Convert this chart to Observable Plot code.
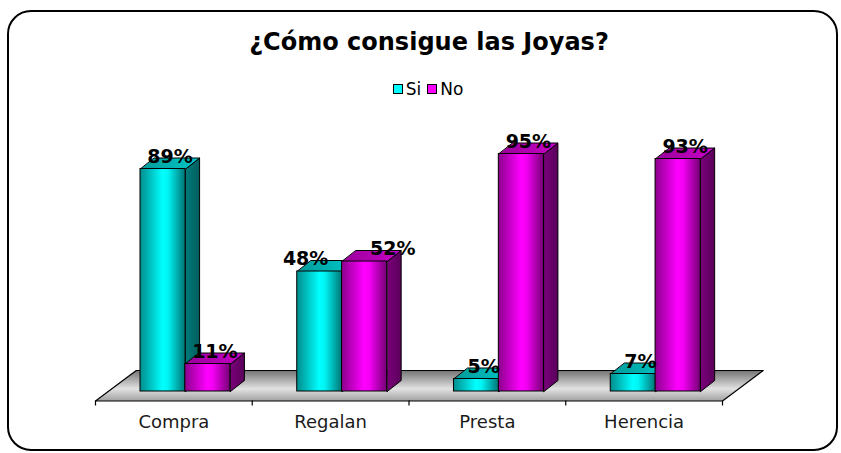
<!DOCTYPE html>
<html><head><meta charset="utf-8">
<script src="https://cdn.jsdelivr.net/npm/d3@7"></script>
<script src="https://cdn.jsdelivr.net/npm/@observablehq/plot@0.6"></script>
<style>
body{margin:0;background:#fff;font-family:"DejaVu Sans",Verdana,sans-serif;}
#wrap{position:relative;width:841px;height:453px;overflow:hidden;background:#fff;}
#frame{position:absolute;left:7px;top:10px;width:831px;height:441px;border:2px solid #000;border-radius:24px;box-sizing:border-box;}
#title{position:absolute;left:0;top:28px;width:858px;text-align:center;font-weight:bold;font-size:24px;line-height:28px;}
#legend{position:absolute;left:0;top:79px;width:856px;text-align:center;font-size:17px;line-height:20px;}
#legend span.sw{display:inline-block;width:8px;height:8px;border:1px solid #000;margin:0 3px 0 0;vertical-align:1px;}
#legend span.it{margin:0 3px;}
#chart{position:absolute;left:0;top:110px;}
</style></head>
<body>
<div id="wrap">
  <div id="frame"></div>
  <div id="title">¿Cómo consigue las Joyas?</div>
  <div id="legend"></div>
  <div id="chart"></div>
</div>
<script>
const categories = ["Compra", "Regalan", "Presta", "Herencia"];
const seriesNames = ["Si", "No"];
const siValues = [89, 48, 5, 7];
const noValues = [11, 52, 95, 93];
const xTicks = [0, 1, 2, 3, 4];

// layout (code-side geometry, in scale units)
const slot = {Si: 0.287, No: 0.573};
const barW = 0.288;
const du = 0.089, dv = 4.4;
const floorFront = -3.8, floorBack = 8.4, floorShift = 0.26;

const rows = [];
categories.forEach((c, i) => {
  rows.push({cat: c, i, serie: "Si", value: siValues[i]});
  rows.push({cat: c, i, serie: "No", value: noValues[i]});
});
rows.forEach(d => { d.x1 = d.i + slot[d.serie]; d.x2 = d.x1 + barW; d.lx = (d.x1 + d.x2) / 2 + du / 2; });
// push apart labels of a category whose values are close (avoid overlap)
categories.forEach((c, i) => {
  const [a, b] = rows.filter(d => d.i === i);
  if (Math.abs(a.value - b.value) < 10) { a.lx -= 0.135; b.lx += 0.135; }
});

function topPoly(d) {
  const id = d.serie + d.i;
  return [[d.x1, d.value], [d.x2, d.value], [d.x2 + du, d.value + dv], [d.x1 + du, d.value + dv]]
    .map(([x, y]) => ({id, x, y}));
}
function sidePoly(d) {
  const id = d.serie + d.i;
  return [[d.x2, 0], [d.x2 + du, dv], [d.x2 + du, d.value + dv], [d.x2, d.value]]
    .map(([x, y]) => ({id, x, y}));
}
const floorPts = [
  {x: xTicks[0], y: floorFront}, {x: xTicks[4], y: floorFront},
  {x: xTicks[4] + floorShift, y: floorBack}, {x: xTicks[0] + floorShift, y: floorBack}
];

const marks = [
  Plot.line(floorPts, {x: "x", y: "y", curve: "linear-closed", fill: "url(#gFloor)", stroke: "#000", strokeWidth: 1.2}),
  Plot.ruleX(xTicks, {y1: floorFront, y2: floorFront - 2, stroke: "#000", strokeWidth: 1.2}),
  Plot.text(categories, {x: (d, i) => i + 0.5, y: -12.4, text: d => d, fontSize: 18, fill: "#1a1a1a"})
];
for (const s of seriesNames) {
  const rs = rows.filter(d => d.serie === s);
  marks.push(
    Plot.line(rs.flatMap(sidePoly), {x: "x", y: "y", z: "id", curve: "linear-closed", fill: `url(#gSide${s})`, stroke: "#000", strokeWidth: 1}),
    Plot.line(rs.flatMap(topPoly), {x: "x", y: "y", z: "id", curve: "linear-closed", fill: `url(#gTop${s})`, stroke: "#000", strokeWidth: 1}),
    Plot.rect(rs, {x1: "x1", x2: "x2", y1: 0, y2: "value", fill: `url(#gFront${s})`, stroke: "#000", strokeWidth: 1})
  );
}
marks.push(
  Plot.text(rows, {x: "lx", y: d => d.value + 5.0, text: d => d.value + "%", fontSize: 19, fontWeight: "bold", fill: "#000", letterSpacing: 0.6})
);

const svg = Plot.plot({
  width: 841, height: 343,
  marginLeft: 95, marginRight: 119, marginTop: 31, marginBottom: 62,
  x: {domain: [0, 4], axis: null},
  y: {domain: [0, 100], axis: null},
  style: {fontFamily: "'DejaVu Sans', Verdana, sans-serif", background: "transparent", overflow: "visible"},
  marks
});

const defs = d3.select(svg).insert("defs", ":first-child");
function hgrad(id, stops, vertical) {
  const g = defs.append("linearGradient").attr("id", id)
    .attr("x1", 0).attr("y1", 0).attr("x2", vertical ? 0 : 1).attr("y2", vertical ? 1 : 0);
  stops.forEach(([o, c]) => g.append("stop").attr("offset", o).attr("stop-color", c));
}
hgrad("gFrontSi", [[0, "#008c8c"], [0.5, "#00ffff"], [0.62, "#00f4f4"], [1, "#007474"]]);
hgrad("gTopSi", [[0, "#009a9a"], [1, "#00c8c8"]]);
hgrad("gSideSi", [[0, "#007a7a"], [1, "#005e5e"]]);
hgrad("gFrontNo", [[0, "#8c008c"], [0.5, "#ff00ff"], [0.62, "#f400f4"], [1, "#740074"]]);
hgrad("gTopNo", [[0, "#9a009a"], [1, "#c800c8"]]);
hgrad("gSideNo", [[0, "#7a007a"], [1, "#5a005a"]]);
hgrad("gFloor", [[0, "#747474"], [0.6, "#e2e2e2"], [1, "#a0a0a0"]], true);

document.getElementById("chart").appendChild(svg);

const legend = d3.select("#legend");
const swColors = {Si: "#00ffff", No: "#ff00ff"};
seriesNames.forEach(s => {
  const it = legend.append("span").attr("class", "it");
  it.append("span").attr("class", "sw").style("background", swColors[s]);
  it.append("span").text(s);
});
</script>
</body></html>
